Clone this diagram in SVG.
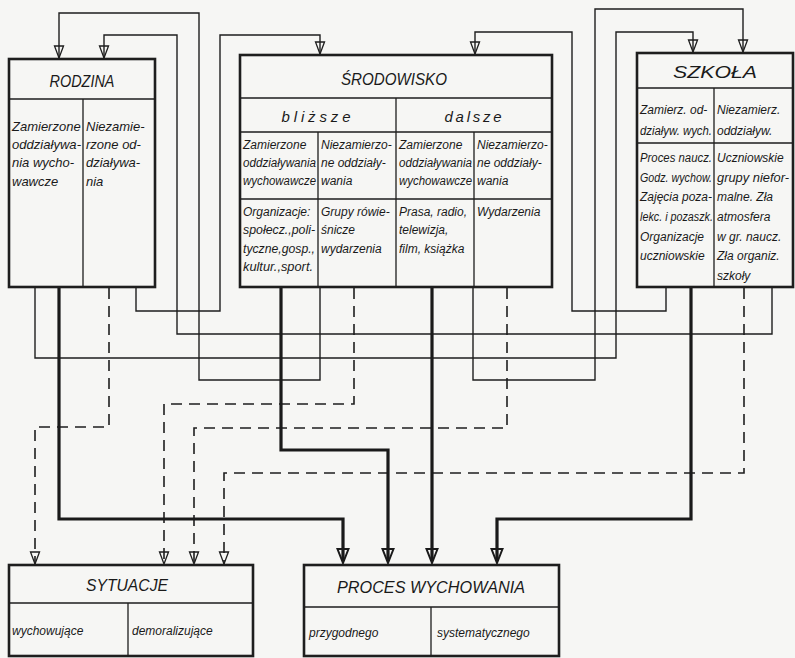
<svg xmlns="http://www.w3.org/2000/svg" width="795" height="658" viewBox="0 0 795 658">
<defs>
<style>
.bg{fill:#f6f6f4}
.box{fill:#f6f6f4;stroke:#1e1e1e;stroke-width:2.6}
.dv{fill:none;stroke:#1e1e1e;stroke-width:1.3}
.thin{fill:none;stroke:#1e1e1e;stroke-width:1.4;marker-end:url(#arr)}
.dash{fill:none;stroke:#1e1e1e;stroke-width:1.6;stroke-dasharray:11 7;marker-end:url(#arr)}
.thick{fill:none;stroke:#1a1a1a;stroke-width:3.2;marker-end:url(#arrT)}
text{font-family:"Liberation Sans",Arial,sans-serif;font-style:italic;fill:#1a1a1a}
.t{font-size:17px;text-anchor:middle}
.s{font-size:15px;text-anchor:middle}
.c{font-size:12px}
.r{font-size:13px}
.k{font-size:12px}
</style>
<marker id="arr" markerUnits="userSpaceOnUse" markerWidth="14" markerHeight="12" viewBox="0 0 14 12" refX="13" refY="6" orient="auto">
<path d="M1,1.5 L13,6 L1,10.5 Z" fill="none" stroke="#1e1e1e" stroke-width="1.3"/>
</marker>
<marker id="arrT" markerUnits="userSpaceOnUse" markerWidth="17" markerHeight="14" viewBox="0 0 17 14" refX="13" refY="7" orient="auto">
<path d="M1,1.5 L15,7 L1,12.5 Z" fill="none" stroke="#1a1a1a" stroke-width="2"/>
</marker>
</defs>
<rect class="bg" x="0" y="0" width="795" height="658"/>
<g id="connectors">
<path class="thin" d="M35,288 V358 H616 V32 H693 V52"/>
<path class="thin" d="M136,288 V311 H220 V35 H320 V54"/>
<path class="thin" d="M320,288 V380 H199 V13 H59 V58"/>
<path class="thin" d="M473,288 V380 H595 V9 H743 V52"/>
<path class="thin" d="M666,288 V311 H572 V32 H475 V54"/>
<path class="thin" d="M772,288 V334 H177 V35 H104 V58"/>
<path class="dash" d="M109,288 V427 H35 V564"/>
<path class="dash" d="M354,288 V404 H164 V564"/>
<path class="dash" d="M507,288 V428 H194 V564"/>
<path class="dash" d="M744,288 V473 H224 V564"/>
<path class="thick" d="M59,288 V519 H343 V561"/>
<path class="thick" d="M281,288 V450 H388 V561"/>
<path class="thick" d="M432,288 V561"/>
<path class="thick" d="M691,288 V519 H497 V561"/>
</g>
<g id="rodzina">
<rect class="box" x="9" y="59" width="146" height="228"/>
<path class="dv" d="M9,99 H155 M83,99 V287"/>
<text class="t" x="82" y="87" textLength="65" lengthAdjust="spacingAndGlyphs">RODZINA</text>
<g class="r">
<text x="12" y="131">Zamierzone</text>
<text x="12" y="149" textLength="69" lengthAdjust="spacingAndGlyphs">oddziaływa-</text>
<text x="12" y="167">nia wycho-</text>
<text x="12" y="186">wawcze</text>
<text x="86" y="131">Niezamie-</text>
<text x="86" y="149">rzone od-</text>
<text x="86" y="167">działywa-</text>
<text x="86" y="186">nia</text>
</g>
</g>
<g id="srodowisko">
<rect class="box" x="240" y="55" width="312" height="232"/>
<path class="dv" d="M240,98 H552 M240,132 H552 M240,199 H552 M396,98 V287 M318,132 V287 M474,132 V287"/>
<text class="t" x="394" y="85" font-size="18" textLength="106" lengthAdjust="spacingAndGlyphs">ŚRODOWISKO</text>
<text class="s" x="316" y="122" textLength="69" lengthAdjust="spacing">bliższe</text>
<text class="s" x="473" y="122" textLength="57" lengthAdjust="spacing">dalsze</text>
<g class="c">
<text x="243" y="149">Zamierzone</text>
<text x="243" y="167" textLength="73" lengthAdjust="spacingAndGlyphs">oddziaływania</text>
<text x="243" y="185" textLength="73" lengthAdjust="spacingAndGlyphs">wychowawcze</text>
<text x="321" y="149">Niezamierzo-</text>
<text x="321" y="167">ne oddziały-</text>
<text x="321" y="185">wania</text>
<text x="399" y="149">Zamierzone</text>
<text x="399" y="167" textLength="73" lengthAdjust="spacingAndGlyphs">oddziaływania</text>
<text x="399" y="185" textLength="73" lengthAdjust="spacingAndGlyphs">wychowawcze</text>
<text x="477" y="149">Niezamierzo-</text>
<text x="477" y="167">ne oddziały-</text>
<text x="477" y="185">wania</text>
<text x="243" y="216">Organizacje:</text>
<text x="243" y="234" textLength="72" lengthAdjust="spacingAndGlyphs">społecz.,poli-</text>
<text x="243" y="253" textLength="72" lengthAdjust="spacingAndGlyphs">tyczne,gosp.,</text>
<text x="243" y="271" textLength="70" lengthAdjust="spacingAndGlyphs">kultur.,sport.</text>
<text x="321" y="216">Grupy rówie-</text>
<text x="321" y="234">śnicze</text>
<text x="321" y="253">wydarzenia</text>
<text x="399" y="216">Prasa, radio,</text>
<text x="399" y="234">telewizja,</text>
<text x="399" y="253">film, książka</text>
<text x="477" y="216">Wydarzenia</text>
</g>
</g>
<g id="szkola">
<rect class="box" x="637" y="53" width="156" height="234"/>
<path class="dv" d="M637,88 H793 M637,143 H793 M714,88 V287"/>
<text class="t" x="715" y="78" textLength="84" lengthAdjust="spacingAndGlyphs">SZKOŁA</text>
<g class="k">
<text x="640" y="114">Zamierz. od-</text>
<text x="640" y="135" textLength="72" lengthAdjust="spacingAndGlyphs">działyw. wych.</text>
<text x="717" y="114">Niezamierz.</text>
<text x="717" y="135">oddziaływ.</text>
<text x="640" y="162" textLength="72" lengthAdjust="spacingAndGlyphs">Proces naucz.</text>
<text x="640" y="182" textLength="72" lengthAdjust="spacingAndGlyphs">Godz. wychow.</text>
<text x="640" y="201" textLength="72" lengthAdjust="spacingAndGlyphs">Zajęcia poza-</text>
<text x="640" y="221" textLength="73" lengthAdjust="spacingAndGlyphs">lekc. i pozaszk.</text>
<text x="640" y="241">Organizacje</text>
<text x="640" y="260">uczniowskie</text>
<text x="717" y="162">Uczniowskie</text>
<text x="717" y="182" textLength="72" lengthAdjust="spacingAndGlyphs">grupy niefor-</text>
<text x="717" y="201">malne. Zła</text>
<text x="717" y="221">atmosfera</text>
<text x="717" y="241">w gr. naucz.</text>
<text x="717" y="260">Zła organiz.</text>
<text x="717" y="280">szkoły</text>
</g>
</g>
<g id="sytuacje">
<rect class="box" x="9" y="565" width="244" height="91"/>
<path class="dv" d="M9,603 H253 M128,603 V656"/>
<text class="t" x="127" y="591" textLength="82" lengthAdjust="spacingAndGlyphs">SYTUACJE</text>
<text class="c" x="12" y="635">wychowujące</text>
<text class="c" x="132" y="635">demoralizujące</text>
</g>
<g id="proces">
<rect class="box" x="304" y="565" width="255" height="91"/>
<path class="dv" d="M304,607 H559 M431,607 V656"/>
<text class="t" x="431" y="593" textLength="188" lengthAdjust="spacingAndGlyphs">PROCES WYCHOWANIA</text>
<text class="c" x="309" y="637">przygodnego</text>
<text class="c" x="437" y="637">systematycznego</text>
</g>
</svg>
